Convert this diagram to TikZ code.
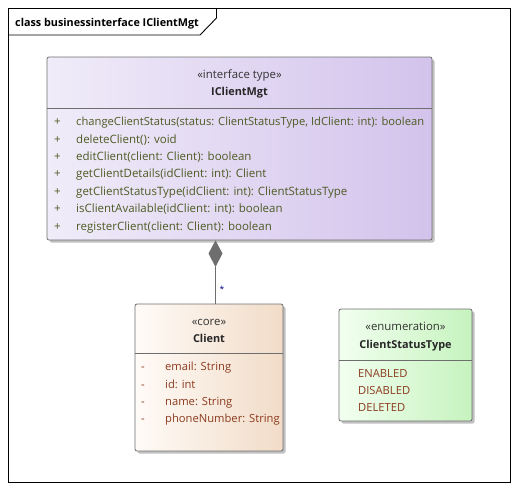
\documentclass[tikz,border=0pt]{standalone}
\usepackage{fontspec}
\setmainfont{Open Sans}
\usetikzlibrary{shadows}
\definecolor{bordergray}{HTML}{6E6E6E}
\definecolor{opcol}{HTML}{4D5A22}
\definecolor{attcol}{HTML}{8B3A1E}
\definecolor{ifleft}{HTML}{F0ECF9}
\definecolor{ifright}{HTML}{D3C3EC}
\definecolor{clleft}{HTML}{FFFBF7}
\definecolor{clright}{HTML}{F1DCC8}
\definecolor{enleft}{HTML}{F2FFF0}
\definecolor{enright}{HTML}{C6F3BE}
\tikzset{
  umlbox/.style={draw=bordergray, line width=0.8pt, rounded corners=2pt, inner sep=0pt,
    drop shadow={shadow xshift=2.5pt, shadow yshift=-2.5pt, fill=black!35, opacity=0.7}},
  stereo/.style={font=\fontsize{11.4}{13}\selectfont, text=black!80, inner sep=0pt, anchor=base},
  cname/.style={font=\fontsize{10.9}{13}\selectfont\bfseries, text=black!85, inner sep=0pt, anchor=base},
  optext/.style={font=\fontsize{11.5}{13}\selectfont, text=opcol, anchor=base west, inner sep=0pt},
  atttext/.style={font=\fontsize{11.2}{13}\selectfont, text=attcol, anchor=base west, inner sep=0pt},
  divider/.style={draw=bordergray, line width=0.6pt},
}
\begin{document}
\begin{tikzpicture}[x=1pt,y=-1pt]
\useasboundingbox (0,0) rectangle (519,491);
% frame
\draw[line width=0.9pt] (8.5,8.5) rectangle (510.5,482.5);
\draw[line width=0.9pt] (8.5,35) -- (200,35) -- (216.5,18) -- (216.5,8.5);
\node[anchor=base west, inner sep=0pt, font=\fontsize{10.8}{13}\selectfont\bfseries] (title) at (15,26) {class businessinterface IClientMgt};

% interface box
\node[umlbox, left color=ifleft, right color=ifright, minimum width=385pt, minimum height=183pt] (iface) at (239.5,148.5) {};
\draw[divider] (47,108) -- (432,108);
\node[stereo] (ifst) at (239.5,78) {«interface type»};
\node[cname] (ifname) at (239.5,95) {IClientMgt};
\node[optext] (opp1) at (54,125.7) {+};
\node[optext] (op1) at (76,125.7) {\resizebox{348pt}{!}{changeClientStatus(status: ClientStatusType, IdClient: int): boolean}};
\foreach \t [count=\i from 2] in {
  {deleteClient(): void},
  {editClient(client: Client): boolean},
  {getClientDetails(idClient: int): Client},
  {getClientStatusType(idClient: int): ClientStatusType},
  {isClientAvailable(idClient: int): boolean},
  {registerClient(client: Client): boolean}}{
  \node[optext] (opp\i) at (54,{108.3+17.4*\i}) {+};
  \node[optext] (op\i) at (76,{108.3+17.4*\i}) {\t};
}

% client box
\node[umlbox, left color=clleft, right color=clright, minimum width=148pt, minimum height=147pt] (client) at (209,377.5) {};
\draw[divider] (135,353) -- (283,353);
\node[stereo] (clst) at (209,325) {«core»};
\node[cname] (clname) at (209,342.5) {Client};
\foreach \t [count=\i] in {{email: String},{id: int},{name: String},{phoneNumber: String}}{
  \node[atttext] (atm\i) at (141,{353.5+17.3*\i}) {-};
  \node[atttext] (at\i) at (165,{353.5+17.3*\i}) {\t};
}

% enumeration box
\node[umlbox, left color=enleft, right color=enright, minimum width=133pt, minimum height=112pt] (enum) at (405.5,365) {};
\draw[divider] (339,360) -- (472,360);
\node[stereo] (enst) at (405.5,330) {«enumeration»};
\node[cname] (enname) at (405.5,348.5) {ClientStatusType};
\foreach \t [count=\i] in {ENABLED,DISABLED,DELETED}{
  \node[atttext] (lit\i) at (358,{360+17.2*\i}) {\t};
}

% composition
\coordinate (dtop) at (iface.south -| 215.5,0);
\coordinate (dtip) at (215.5,267);
\fill[bordergray] (dtop) -- (222.5,253.5) -- (dtip) -- (208.5,253.5) -- cycle;
\draw[bordergray, line width=0.8pt] (dtip) -- (dtip |- client.north);
\node[font=\fontsize{8.5}{9}\selectfont, text=blue!50!black, inner sep=0pt] (mult) at (222,289) {*};
\end{tikzpicture}
\end{document}
